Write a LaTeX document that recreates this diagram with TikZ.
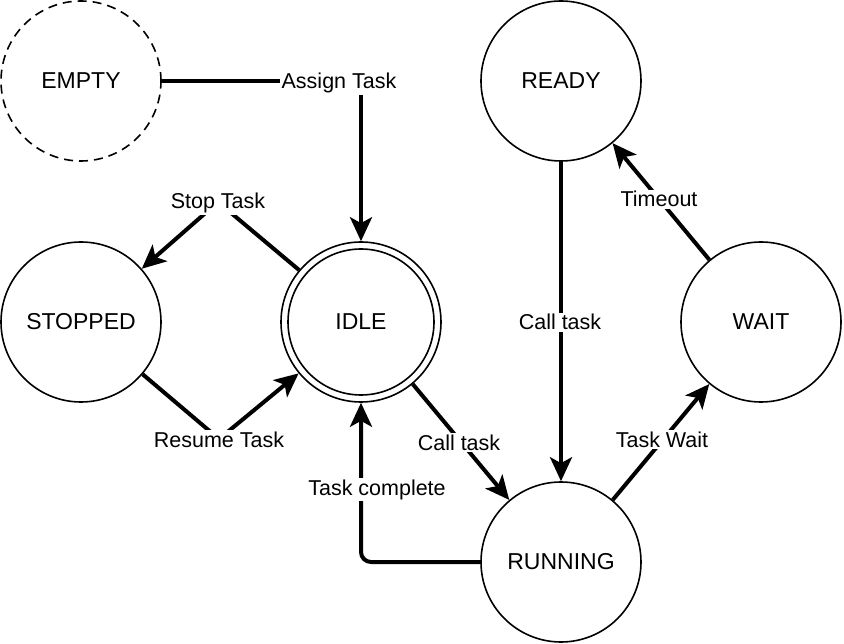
\documentclass[tikz,border=0pt]{standalone}
\usepackage{fontspec}
\setmainfont{Liberation Sans}
\usetikzlibrary{arrows.meta}
\begin{document}
\begin{tikzpicture}[x=1pt,y=-1pt,
  state/.style={circle,draw,line width=1.6pt,minimum size=160pt,inner sep=0pt,fill=white,
    font=\fontsize{23}{28}\selectfont},
  edge/.style={line width=4pt,-{Stealth[length=24pt,width=22pt,inset=6pt]}},
  lbl/.style={fill=white,inner sep=1.5pt,anchor=base,font=\fontsize{21.5}{26}\selectfont}]
\useasboundingbox (0,0) rectangle (844,644);
% states
\node[state,dash pattern=on 9pt off 6pt] (empty) at (81,81) {EMPTY};
\node[state] (ready) at (561,81) {READY};
\node[state] (stopped) at (81,322) {STOPPED};
\node[state] (idle) at (361,322) {};
\draw[line width=1.6pt] (idle.center) circle[radius=73pt];
\node[font=\fontsize{23}{28}\selectfont] (idletext) at (idle.center) {IDLE};
\node[state] (wait) at (761,322) {WAIT};
\node[state] (running) at (561,562) {RUNNING};
% waypoints
\coordinate (c1) at (361,81);
\coordinate (w1) at (218,202);
\coordinate (w2) at (219,439);
% connectors
\draw[edge] (empty) -- (c1) -- (idle);
\draw[edge] (idle) -- (w1) -- (stopped);
\draw[edge] (stopped) -- (w2) -- (idle);
\draw[edge] (idle) -- (running);
\draw[edge,rounded corners=10pt] (running.west) -| (idle.south);
\draw[edge] (ready) -- (running);
\draw[edge] (running) -- (wait);
\draw[edge] (wait) -- (ready);
% labels
\node[lbl] (l1) at (339,89) {Assign Task};
\node[lbl] (l2) at (218,209) {Stop Task};
\node[lbl] (l3) at (219,447) {Resume Task};
\node[lbl] (l4) at (459,450) {Call task};
\node[lbl] (l5) at (377,495) {Task complete};
\node[lbl] (l6) at (560,330) {Call task};
\node[lbl] (l7) at (659,207) {Timeout};
\node[lbl] (l8) at (662,447) {Task Wait};
\end{tikzpicture}
\end{document}
